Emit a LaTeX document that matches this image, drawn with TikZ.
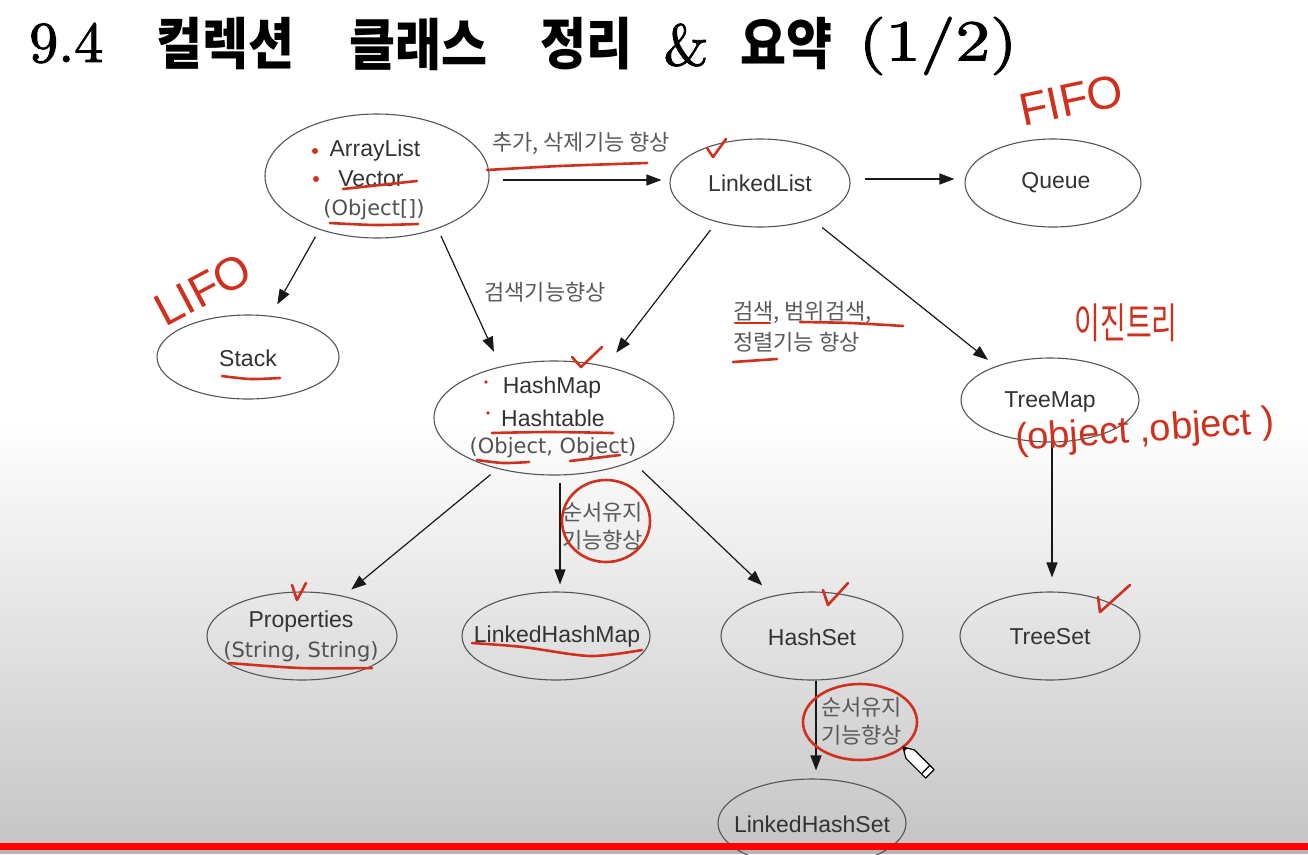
\documentclass[tikz,border=0pt]{standalone}
\usepackage{fontspec}
\usetikzlibrary{shapes.geometric,arrows.meta}
\newfontfamily\kr{Noto Sans CJK KR}
\newfontfamily\lat{Liberation Sans}
\newfontfamily\dv{DejaVu Sans}
\newfontfamily\lmb[FakeBold=1.6]{lmroman10-regular.otf}
\definecolor{ink}{HTML}{333333}
\definecolor{lblgray}{HTML}{5A5A5A}
\definecolor{edge}{HTML}{555555}
\definecolor{pen}{HTML}{D0301E}
\definecolor{bgbot}{RGB}{198,198,198}
\begin{document}
\begin{tikzpicture}[x=1pt,y=-1pt,
  cls/.style={ellipse, draw=edge, line width=1.1pt, inner sep=0pt},
  nm/.style={font=\lat\fontsize{23}{28}\selectfont, text=ink, inner sep=0pt},
  ob/.style={font=\dv\fontsize{21}{26}\selectfont, text=ink!85, inner sep=0pt},
  lbl/.style={font=\kr\fontsize{22}{28}\selectfont, text=lblgray, inner sep=0pt},
  ttlk/.style={font=\kr\bfseries\fontsize{50}{50}\selectfont, text=black, inner sep=0pt},
  ttll/.style={font=\lmb\fontsize{58}{58}\selectfont, text=black, inner sep=0pt},
  arr/.style={draw=black!90, line width=1.2pt, -{Triangle[length=15pt,width=11pt]}},
  redpen/.style={draw=pen, line width=2.6pt, line cap=round, line join=round},
  hand/.style={text=pen, inner sep=0pt},
]
\useasboundingbox (0,0) rectangle (1308,854);
% background
\fill[white] (0,0) rectangle (1308,420);
\shade[top color=white,bottom color=bgbot] (0,420) rectangle (1308,843);
\fill[bgbot!92!black] (0,843) rectangle (1308,854);

% title
\node[ttll, anchor=base west] (t0) at (29,62) {9.4};
\node[ttlk] (t1) at (225,44) {\scalebox{1}[1.12]{컬렉션}};
\node[ttlk] (t2) at (418,44) {\scalebox{1}[1.12]{클래스}};
\node[ttlk] (t3) at (586,44) {\scalebox{1}[1.12]{정리}};
\node[ttll] (t4) at (686,45) {\&};
\node[ttlk] (t5) at (786,44) {\scalebox{1}[1.12]{요약}};
\node[ttll] (t6) at (938,46) {\scalebox{1.2}[1]{(1/2)}};

% class ellipses
\node[cls, minimum width=224pt, minimum height=124pt] (al) at (377,176) {};
\node[cls, minimum width=180pt, minimum height=88pt] (ll) at (760,183) {};
\node[cls, minimum width=176pt, minimum height=88pt] (q) at (1053,183) {};
\node[cls, minimum width=182pt, minimum height=84pt] (st) at (248,357) {};
\node[cls, minimum width=240pt, minimum height=114pt] (hm) at (554,418) {};
\node[cls, minimum width=178pt, minimum height=84pt] (tm) at (1050,400) {};
\node[cls, minimum width=190pt, minimum height=88pt] (pr) at (302,636) {};
\node[cls, minimum width=188pt, minimum height=88pt] (lhm) at (556,636) {};
\node[cls, minimum width=182pt, minimum height=88pt] (hs) at (812,636) {};
\node[cls, minimum width=180pt, minimum height=88pt] (ts) at (1050,636) {};
\node[cls, minimum width=188pt, minimum height=88pt] (lhs) at (812,823) {};

% class texts
\node[nm] (alt1) at (375,151) {ArrayList};
\node[nm] (alt2) at (371,179) {Vector};
\node[ob] (alt3) at (374,210) {(Object[])};
\node[nm] (llt) at (760,183) {LinkedList};
\node[nm] (qt) at (1056,183) {Queue};
\node[nm] (stt) at (248,358) {Stack};
\node[nm] (hmt1) at (552,388) {HashMap};
\node[nm] (hmt2) at (553,418) {Hashtable};
\node[ob] (hmt3) at (553,448) {(Object, Object)};
\node[nm] (tmt) at (1050,402) {TreeMap};
\node[nm] (prt1) at (301,622) {Properties};
\node[ob] (prt2) at (301,652) {(String, String)};
\node[nm] (lhmt) at (557,637) {LinkedHashMap};
\node[nm] (hst) at (812,637) {HashSet};
\node[nm] (tst) at (1050,637) {TreeSet};
\node[nm] (lhst) at (812,824) {LinkedHashSet};

% edge labels
\node[lbl] (e1) at (581,143) {추가, 삭제기능 향상};
\node[lbl] (e2) at (545,292) {검색기능향상};
\node[lbl, anchor=west] (e3a) at (733,312) {검색, 범위검색,};
\node[lbl, anchor=west] (e3b) at (733,342) {정렬기능 향상};
\node[lbl, anchor=west] (e4a) at (562,512) {순서유지};
\node[lbl, anchor=west] (e4b) at (562,540) {기능향상};
\node[lbl, anchor=west] (e5a) at (821,707) {순서유지};
\node[lbl, anchor=west] (e5b) at (821,735) {기능향상};

% connectors
\draw[arr, shorten <=13pt, shorten >=8pt] ([yshift=-4pt]al.east) -- ([yshift=-4pt]al.east -| ll.west);
\draw[arr, shorten <=14pt, shorten >=10pt] ([yshift=4pt]ll.east) -- ([yshift=4pt]q.west);
\draw[arr, shorten <=8pt, shorten >=13pt] (al.-137) -- (st.61);
\draw[arr, shorten <=8pt, shorten >=16pt] (al.-41) -- (hm.136);
\draw[arr, shorten <=10pt, shorten >=17pt] (ll.-138.5) -- (hm.45.8);
\draw[arr, shorten <=13pt, shorten >=10pt] (ll.-35.7) -- (tm.148);
\draw[arr, shorten <=9pt, shorten >=10pt] (hm.-138.5) -- (pr.44.4);
\draw[arr, shorten <=7pt, shorten >=7pt] ([xshift=6pt]hm.south) -- ([xshift=6pt]hm.south |- lhm.north);
\draw[arr, shorten <=13pt, shorten >=15pt] (hm.-29.3) -- (hs.134.6);
\draw[arr, shorten >=14pt] ([xshift=2pt]tm.south) -- ([xshift=2pt]tm.south |- ts.north);
\draw[arr, shorten >=8pt] ([xshift=4pt]hs.south) -- ([xshift=4pt]hs.south |- lhs.north);

% red handwriting
\fill[pen] (315,151) circle (3pt);
\fill[pen] (316,179) circle (3pt);
\draw[redpen] plot[smooth] coordinates {(343,189) (380,185) (417,181)};
\draw[redpen] plot[smooth] coordinates {(487,170) (560,166) (647,163)};
\draw[redpen] (707,148) -- (713,157) -- (726,139);
\draw[redpen] plot[smooth] coordinates {(330,223) (375,225) (418,224)};
\node[hand, font=\lat\fontsize{46}{46}\selectfont, rotate=12] (fifo) at (1071,100) {FIFO};
\node[hand, font=\lat\fontsize{46}{46}\selectfont, rotate=28] (lifo) at (203,290) {LIFO};
\draw[redpen] plot[smooth] coordinates {(222,376) (250,379) (280,378)};
\draw[redpen] (572,357) -- (581,367) -- (602,347);
\fill[pen] (486,382) circle (1.8pt);
\fill[pen] (488,413) circle (1.8pt);
\draw[redpen] plot[smooth] coordinates {(492,433) (550,432) (613,433)};
\draw[redpen] plot[smooth] coordinates {(477,460) (503,463) (529,462)};
\draw[redpen] plot[smooth] coordinates {(570,461) (595,458) (620,455)};
\draw[redpen] (735,323) -- (770,323);
\draw[redpen] plot[smooth] coordinates {(800,322) (850,323) (903,326)};
\draw[redpen] (733,362) -- (777,359);
\node[hand, font=\kr\fontsize{28}{28}\selectfont] (bt) at (1126,323) {\scalebox{1}[1.5]{이진트리}};
\node[hand, font=\lat\fontsize{38}{38}\selectfont, rotate=4] (oo) at (1145,432) {(object ,object )};
\draw[redpen] (292,585) -- (297,600) -- (306,583);
\draw[redpen] plot[smooth] coordinates {(229,663) (300,668) (372,668)};
\draw[redpen] plot[smooth] coordinates {(472,643) (523,647) (590,656) (642,650)};
\draw[redpen] (606,521) ellipse[x radius=44, y radius=41];
\draw[redpen] (823,590) -- (828,605) -- (848,583);
\draw[redpen] (1098,597) -- (1100,612) -- (1130,585);
\draw[redpen] (860,722) ellipse[x radius=57, y radius=38];

% red bar
\fill[red] (0,843) rectangle (1308,850);

% pencil cursor
\draw[black, line width=1.2pt, fill=white, line join=round] (903,747) -- (914.3,749.9) -- (934.1,769.7) -- (925.7,778.1) -- (905.9,758.3) -- cycle;
\draw[black, line width=1.2pt] (929.8,765.4) -- (921.4,773.8);
\fill[black] (903,747) -- (907.5,748.2) -- (904.2,751.5) -- cycle;
\end{tikzpicture}
\end{document}
